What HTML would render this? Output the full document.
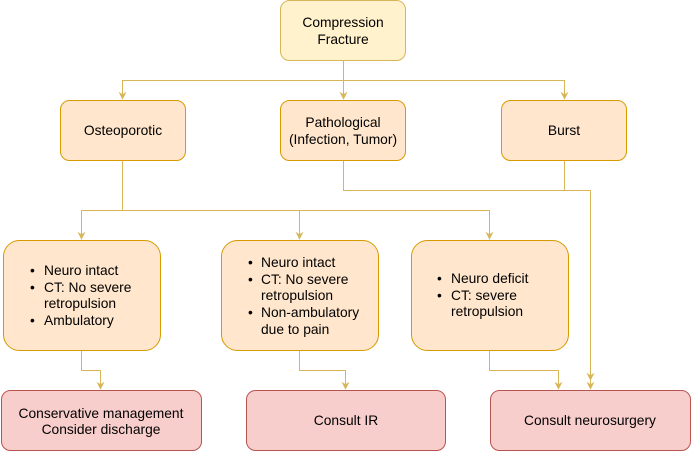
<!DOCTYPE html>
<html><head><meta charset="utf-8"><style>
html,body{margin:0;padding:0;background:#fff;width:691px;height:451px;overflow:hidden}
text{font-family:"Liberation Sans",Arial,sans-serif;font-size:13.8px;fill:#000}
</style></head><body>
<svg width="691" height="451" viewBox="0 0 691 451" xmlns="http://www.w3.org/2000/svg">
<defs>
<marker id="a" viewBox="0 0 10 10" refX="9" refY="5" markerWidth="8" markerHeight="8" orient="auto" markerUnits="userSpaceOnUse">
<path d="M0,0 L10,5 L0,10 L3,5 z" fill="#d6b656"/></marker>
</defs>
<g fill="none" stroke="#d6b656" stroke-width="1">
<path d="M343.5,60 V80.5 H122.5 V99" marker-end="url(#a)"/>
<path d="M343.5,80.5 V99" marker-end="url(#a)"/>
<path d="M343.5,80.5 H564.5 V99" marker-end="url(#a)"/>
<path d="M122.5,160 V210.5 H81.5 V239" marker-end="url(#a)"/>
<path d="M122.5,210.5 H299.5 V239" marker-end="url(#a)"/>
<path d="M299.5,210.5 H489.5 V239" marker-end="url(#a)"/>
<path d="M343.5,160 V190.5 H590.5 V389" marker-end="url(#a)"/>
<path d="M564.5,160 V190.5 H590.5 V380" marker-end="url(#a)"/>
<path d="M81.5,350 V370.5 H100.5 V389" marker-end="url(#a)"/>
<path d="M299.5,350 V370.5 H345.5 V389" marker-end="url(#a)"/>
<path d="M489.5,350 V370.5 H558.5 V389" marker-end="url(#a)"/>
</g>
<rect x="280.5" y="0.5" width="125" height="60" rx="9" fill="#fff2cc" stroke="#d6b656"/>
<g fill="#ffe6cc" stroke="#d79b00">
<rect x="60.5" y="100.5" width="125" height="60" rx="9"/>
<rect x="280.5" y="100.5" width="125" height="60" rx="9"/>
<rect x="501.5" y="100.5" width="125" height="60" rx="9"/>
<rect x="3.5" y="240.5" width="157" height="110" rx="16"/>
<rect x="221.5" y="240.5" width="157" height="110" rx="16"/>
<rect x="411.5" y="240.5" width="157" height="110" rx="16"/>
</g>
<g fill="#f8cecc" stroke="#b85450">
<rect x="1.5" y="390.5" width="200" height="60" rx="9"/>
<rect x="246.5" y="390.5" width="199" height="60" rx="9"/>
<rect x="490.5" y="390.5" width="200" height="60" rx="9"/>
</g>
<g text-anchor="middle">
<text x="343" y="27">Compression</text>
<text x="343" y="44">Fracture</text>
<text x="123" y="135">Osteoporotic</text>
<text x="343" y="127">Pathological</text>
<text x="343" y="144">(Infection, Tumor)</text>
<text x="564" y="135">Burst</text>
<text x="101" y="418">Conservative management</text>
<text x="101" y="434">Consider discharge</text>
<text x="346" y="425">Consult IR</text>
<text x="590" y="425">Consult neurosurgery</text>
</g>
<g>
<text x="30" y="275">•</text><text x="44" y="275">Neuro intact</text>
<text x="30" y="292">•</text><text x="44" y="292">CT: No severe</text>
<text x="44" y="308">retropulsion</text>
<text x="30" y="325">•</text><text x="44" y="325">Ambulatory</text>

<text x="248" y="267">•</text><text x="261" y="267">Neuro intact</text>
<text x="248" y="284">•</text><text x="261" y="284">CT: No severe</text>
<text x="261" y="300">retropulsion</text>
<text x="248" y="317">•</text><text x="261" y="317">Non-ambulatory</text>
<text x="261" y="334">due to pain</text>

<text x="437" y="283">•</text><text x="451" y="283">Neuro deficit</text>
<text x="437" y="300">•</text><text x="451" y="300">CT: severe</text>
<text x="451" y="316">retropulsion</text>
</g>
</svg>
</body></html>
